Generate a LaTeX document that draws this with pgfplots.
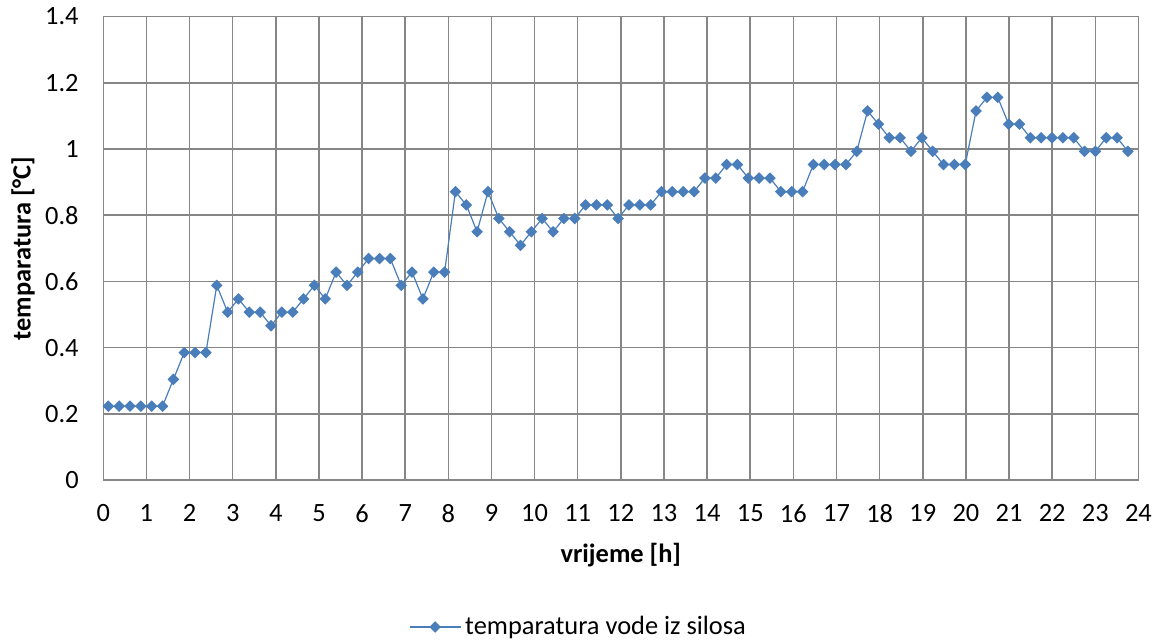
\documentclass[border=0pt]{standalone}
\usepackage{fontspec}
\setmainfont{Carlito}
\usepackage{pgfplots}
\pgfplotsset{compat=1.18}
\usepackage{pgfplotstable}
\definecolor{serblue}{RGB}{74,126,187}
\definecolor{gridgray}{RGB}{134,134,134}
\pgfplotstableread{
x y
0.116 0.223
0.368 0.223
0.619 0.223
0.871 0.223
1.122 0.223
1.374 0.223
1.625 0.304
1.877 0.385
2.128 0.385
2.380 0.385
2.631 0.588
2.883 0.507
3.134 0.547
3.386 0.507
3.637 0.507
3.889 0.466
4.140 0.507
4.392 0.507
4.643 0.547
4.895 0.588
5.146 0.547
5.398 0.628
5.649 0.588
5.901 0.628
6.152 0.669
6.404 0.669
6.655 0.669
6.907 0.588
7.158 0.628
7.410 0.547
7.661 0.628
7.913 0.628
8.164 0.871
8.416 0.831
8.667 0.750
8.919 0.871
9.170 0.790
9.422 0.750
9.673 0.709
9.925 0.750
10.176 0.790
10.428 0.750
10.679 0.790
10.931 0.790
11.182 0.831
11.434 0.831
11.685 0.831
11.937 0.790
12.188 0.831
12.440 0.831
12.691 0.831
12.943 0.871
13.194 0.871
13.446 0.871
13.697 0.871
13.949 0.912
14.200 0.912
14.452 0.953
14.703 0.953
14.955 0.912
15.206 0.912
15.458 0.912
15.709 0.871
15.961 0.871
16.212 0.871
16.464 0.953
16.715 0.953
16.967 0.953
17.218 0.953
17.470 0.993
17.721 1.115
17.973 1.075
18.224 1.034
18.476 1.034
18.727 0.993
18.979 1.034
19.230 0.993
19.482 0.953
19.733 0.953
19.985 0.953
20.236 1.115
20.488 1.156
20.739 1.156
20.991 1.075
21.242 1.075
21.494 1.034
21.745 1.034
21.997 1.034
22.248 1.034
22.500 1.034
22.751 0.993
23.003 0.993
23.254 1.034
23.506 1.034
23.757 0.993
}\datatable
\begin{document}
\begin{tikzpicture}
\path[use as bounding box] (0,0) rectangle (579.5pt,320pt);
\begin{axis}[
  at={(51.65pt,80pt)}, anchor=south west,
  scale only axis,
  width=517.55pt, height=231.7pt,
  xmin=0, xmax=24, ymin=0, ymax=1.4,
  xtick={0,1,...,24},
  ytick={0,0.2,0.4,0.6,0.8,1,1.2,1.4},
  grid=major,
  major grid style={draw=gridgray, line width=0.75pt},
  axis line style={draw=gridgray, line width=0.75pt},
  major tick length=0pt,
  /pgf/number format/assume math mode=true,
  /pgf/number format/fixed,
  tick label style={font=\fontsize{13.2}{15}\selectfont},
  xticklabel style={yshift=-8.8pt},
  yticklabel style={xshift=-8.8pt},
  xlabel={vrijeme [h]},
  ylabel={temparatura [°C]},
  label style={font=\fontsize{13.2}{15}\selectfont\bfseries},
  xlabel style={at={(axis description cs:0.5,-0.1625)}, anchor=center},
  ylabel style={at={(axis description cs:-0.0776,0.5)}, anchor=center},
  legend style={at={(axis description cs:0.460,-0.3172)}, anchor=center,
    draw=none, font=\fontsize{13.2}{15}\selectfont},
  legend image code/.code={\draw[mark repeat=2,mark phase=2] plot coordinates {(0pt,0pt)(12.75pt,0pt)(25.5pt,0pt)};},
]
\addplot[color=serblue, line width=0.6pt, mark=square*, mark size=1.75pt,
  mark options={rotate=45, fill=serblue, draw=serblue, solid}]
  table[x=x,y=y] {\datatable};
\addlegendentry{temparatura vode iz silosa}
\end{axis}
\end{tikzpicture}
\end{document}
